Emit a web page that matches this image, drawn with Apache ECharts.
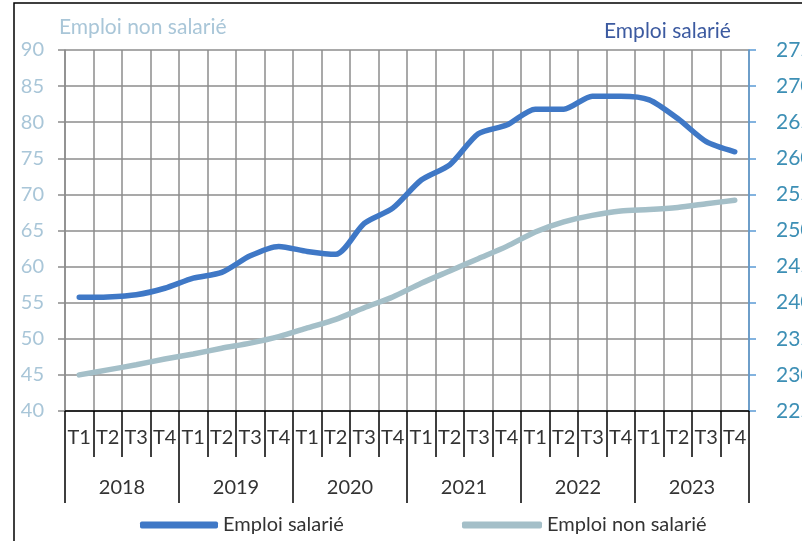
<!DOCTYPE html>
<html>
<head>
<meta charset="utf-8">
<script src="https://cdn.jsdelivr.net/npm/echarts@6/dist/echarts.min.js"></script>
<style>
html,body{margin:0;padding:0;background:#fff;}
#c{width:802px;height:541px;}
</style>
</head>
<body>
<div id="c"></div>
<script>
var quarters = ['T1','T2','T3','T4','T1','T2','T3','T4','T1','T2','T3','T4','T1','T2','T3','T4','T1','T2','T3','T4','T1','T2','T3','T4'];
var years = ['2018','2019','2020','2021','2022','2023'];
var salarie = [240.75,240.8,241.1,242.0,243.4,244.2,246.5,247.8,247.1,246.7,251.0,253.1,257.0,259.1,263.4,264.6,266.8,266.8,268.6,268.6,268.1,265.5,262.3,260.9];
var nonSalarie = [45.0,45.7,46.4,47.2,47.9,48.7,49.4,50.3,51.5,52.7,54.3,55.8,57.7,59.4,61.1,62.8,64.8,66.2,67.1,67.7,67.9,68.2,68.7,69.2];
var leftTicks = [40, 90, 5];
var rightTicks = [225, 275, 5];

var FONT = 'Lato';
var chart = echarts.init(document.getElementById('c'), null, {renderer:'canvas'});
chart.setOption({
  animation:false,
  textStyle:{fontFamily:FONT},
  graphic:[{type:'rect', shape:{x:14, y:3, width:900, height:700}, style:{fill:'none', stroke:'#000', lineWidth:1.5}, z:-1}],
  title:[
    {text:'Emploi non salarié', left:54, top:12, textStyle:{fontFamily:FONT, fontSize:21, fontWeight:'normal', color:'#a9c6d8'}},
    {text:'Emploi salarié', left:599, top:16, textStyle:{fontFamily:FONT, fontSize:21, fontWeight:'normal', color:'#3c5aa0'}}
  ],
  legend:[
    {data:[{name:'Emploi salarié', icon:'roundRect'}], left:135, top:510, itemWidth:78, itemHeight:7, itemGap:8, textStyle:{fontFamily:FONT, fontSize:20, color:'#333'}},
    {data:[{name:'Emploi non salarié', icon:'roundRect'}], left:457, top:510, itemWidth:80, itemHeight:7, textStyle:{fontFamily:FONT, fontSize:20, color:'#333'}}
  ],
  grid:{left:65, right:53, top:50, bottom:130, containLabel:false, outerBoundsMode:'none'},
  xAxis:[
    {type:'category', data:quarters, position:'bottom', boundaryGap:true,
     axisLine:{show:true, lineStyle:{color:'#000', width:1.5}},
     axisTick:{show:true, interval:0, length:46, lineStyle:{color:'#000', width:1.5}},
     axisLabel:{interval:0, margin:17, fontFamily:FONT, fontSize:20, color:'#333'},
     splitLine:{show:true, interval:0, lineStyle:{color:'#8c8c8c', width:1.5}}},
    {type:'category', data:years, position:'bottom', boundaryGap:true,
     axisLine:{show:false},
     axisTick:{show:true, interval:0, length:92, lineStyle:{color:'#000', width:1.5}},
     axisLabel:{interval:0, margin:67, fontFamily:FONT, fontSize:20, color:'#333'},
     splitLine:{show:false}}
  ],
  yAxis:[
    {type:'value', min:leftTicks[0], max:leftTicks[1], interval:leftTicks[2], position:'left',
     axisLine:{show:true, lineStyle:{color:'#8c8c8c', width:1.5}},
     axisTick:{show:true, length:7, lineStyle:{color:'#8c8c8c', width:1.5}},
     axisLabel:{margin:21, fontFamily:FONT, fontSize:20, color:'#a9c6d8'},
     splitLine:{show:true, lineStyle:{color:'#8c8c8c', width:1.5}}},
    {type:'value', min:rightTicks[0], max:rightTicks[1], interval:rightTicks[2], position:'right',
     axisLine:{show:true, lineStyle:{color:'#5b9bd5', width:1.5}},
     axisTick:{show:true, length:7, lineStyle:{color:'#5b9bd5', width:1.5}},
     axisLabel:{margin:27, fontFamily:FONT, fontSize:21, color:'#3d8fb5'},
     splitLine:{show:false}}
  ],
  series:[
    {name:'Emploi salarié', type:'line', xAxisIndex:0, yAxisIndex:1, data:salarie, smooth:0.25, showSymbol:false, symbol:'none',
     lineStyle:{color:'#3f78c6', width:5.5, cap:'round', join:'round'}, itemStyle:{color:'#3f78c6'}},
    {name:'Emploi non salarié', type:'line', xAxisIndex:0, yAxisIndex:0, data:nonSalarie, smooth:0.25, showSymbol:false, symbol:'none',
     lineStyle:{color:'#a4bfc8', width:5.5, cap:'round', join:'round'}, itemStyle:{color:'#a4bfc8'}}
  ]
});
</script>
</body>
</html>
